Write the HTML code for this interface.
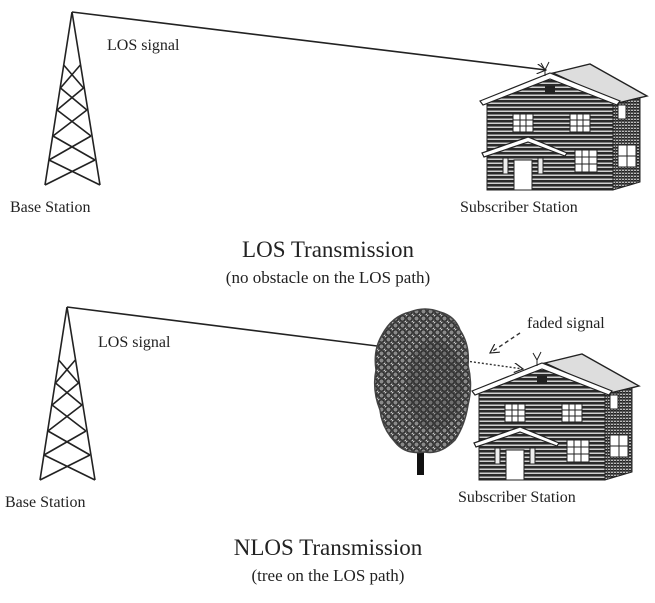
<!DOCTYPE html>
<html><head><meta charset="utf-8"><style>
html,body{margin:0;padding:0;background:#fff;}
svg{display:block;}
text{font-family:"Liberation Serif",serif;fill:#222;}
</style></head><body>
<svg width="655" height="603" viewBox="0 0 655 603" xmlns="http://www.w3.org/2000/svg">
<defs>
<pattern id="stripes" width="4" height="4" patternUnits="userSpaceOnUse">
<rect width="4" height="4" fill="#d0d0d0"/><rect width="4" height="2.5" fill="#2a2a2a"/>
</pattern>
<pattern id="side" width="3" height="3" patternUnits="userSpaceOnUse">
<rect width="3" height="3" fill="#bbb"/><rect width="3" height="1.6" fill="#222"/><rect width="1" height="3" fill="#444"/>
</pattern>
<pattern id="leaves" width="7" height="7" patternUnits="userSpaceOnUse">
<rect width="7" height="7" fill="#555"/>
<circle cx="3.5" cy="3.5" r="2.6" fill="#8a8a8a" stroke="#222" stroke-width="1"/>
<circle cx="0" cy="0" r="1.3" fill="#ccc"/><circle cx="7" cy="7" r="1.3" fill="#ccc"/>
</pattern>
<marker id="ah" markerWidth="10" markerHeight="10" refX="9" refY="5" orient="auto" markerUnits="userSpaceOnUse">
<path d="M0,0 L9,5 L0,10" fill="none" stroke="#222" stroke-width="1.2"/>
</marker>
<g id="tower" fill="none" stroke="#222" stroke-width="1.6">
<path d="M0,0 L-27,173 M0,0 L28,173"/>
<path d="M-8.3,53 L11.5,76 M8.3,53 L-11.5,76 M-11.5,76 L14.9,98 M11.5,76 L-14.9,98 M-14.9,98 L19,124 M14.9,98 L-19,124 M-19,124 L23,148 M19,124 L-23,148 M-23,148 L28,173 M23,148 L-27,173"/>
</g>
<g id="house">
<polygon points="613,102 640,94 640,182 613,190" fill="url(#side)" stroke="#222"/>
<rect x="618" y="105" width="8" height="14" fill="#fff" stroke="#222"/>
<rect x="618" y="145" width="18" height="22" fill="#fff" stroke="#222"/>
<path d="M627,145 V167 M618,156 H636" stroke="#222"/>
<polygon points="553,73 590,64 647,96 618,103" fill="#ddd" stroke="#222" stroke-width="1.4"/>
<polygon points="487,102 550,78 613,102 613,190 487,190" fill="url(#stripes)" stroke="#222"/>
<polygon points="480,101 550,73 620,101 617,105 550,79 483,105" fill="#fff" stroke="#222" stroke-width="1.2"/>
<rect x="545" y="86" width="10" height="8" fill="#222"/>
<rect x="513" y="114" width="20" height="18" fill="#fff" stroke="#222"/>
<path d="M513,120 H533 M513,126 H533 M520,114 V132 M526,114 V132" stroke="#222"/>
<rect x="570" y="114" width="20" height="18" fill="#fff" stroke="#222"/>
<path d="M570,120 H590 M570,126 H590 M577,114 V132 M583,114 V132" stroke="#222"/>
<polygon points="482,153 528,137 567,153 565,156 528,142 484,157" fill="#fff" stroke="#222" stroke-width="1.2"/>
<rect x="503" y="158" width="5" height="16" fill="#eee" stroke="#222"/>
<rect x="538" y="158" width="5" height="16" fill="#eee" stroke="#222"/>
<rect x="514" y="160" width="18" height="30" fill="#fff" stroke="#222"/>
<rect x="575" y="150" width="22" height="22" fill="#fff" stroke="#222"/>
<path d="M575,157 H597 M575,164 H597 M582,150 V172 M589,150 V172" stroke="#222"/>
<path d="M545,70 L541,63 M545,70 L549,62 M545,70 V76" stroke="#222"/>
</g>
</defs>

<use href="#tower" x="72" y="12"/>
<line x1="72" y1="12" x2="546" y2="70" stroke="#222" stroke-width="1.6" marker-end="url(#ah)"/>
<text x="107" y="50" font-size="16">LOS signal</text>
<use href="#house"/>
<text x="10" y="212" font-size="16">Base Station</text>
<text x="460" y="212" font-size="16">Subscriber Station</text>
<text x="328" y="257" font-size="23" text-anchor="middle">LOS Transmission</text>
<text x="328" y="283" font-size="17" text-anchor="middle">(no obstacle on the LOS path)</text>

<use href="#tower" x="67" y="307"/>
<line x1="67" y1="307" x2="385" y2="347" stroke="#222" stroke-width="1.6"/>
<text x="98" y="347" font-size="16">LOS signal</text>
<text x="527" y="328" font-size="16">faded signal</text>
<line x1="520" y1="333" x2="490" y2="353" stroke="#333" stroke-width="1.4" stroke-dasharray="4,3" marker-end="url(#ah)"/>
<line x1="466" y1="361" x2="523" y2="369" stroke="#333" stroke-width="1.4" stroke-dasharray="2,2" marker-end="url(#ah)"/>
<rect x="417" y="440" width="7" height="35" fill="#111"/>
<path d="M410,312 Q425,306 440,312 Q455,316 460,330 Q470,345 468,365 Q473,385 468,405 Q465,425 455,440 Q440,455 425,452 Q405,455 395,442 Q382,428 380,410 Q372,390 376,370 Q373,350 382,335 Q392,316 410,312 Z" fill="url(#leaves)" stroke="#444" stroke-width="1.5"/>
<ellipse cx="435" cy="385" rx="28" ry="45" fill="#333" opacity="0.3"/>
<use href="#house" transform="translate(-8,290)"/>
<text x="5" y="507" font-size="16">Base Station</text>
<text x="458" y="502" font-size="16">Subscriber Station</text>
<text x="328" y="555" font-size="23" text-anchor="middle">NLOS Transmission</text>
<text x="328" y="581" font-size="17" text-anchor="middle">(tree on the LOS path)</text>
</svg>
</body></html>
